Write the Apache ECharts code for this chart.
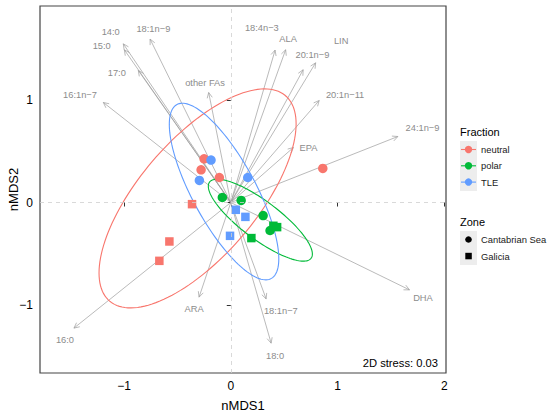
<!DOCTYPE html>
<html>
<head>
<meta charset="utf-8">
<script src="https://cdn.jsdelivr.net/npm/echarts@6/dist/echarts.min.js"></script>
<style>
	html,body{ margin:0; padding:0; background:#fff;}
	#mainBox{ width:550px; height:416px;}
</style>
</head>
<body>
<div id="mainBox"></div>
<script>
// samples (nMDS scores)
var sampleFraction=['neutral','neutral','neutral','neutral','neutral','neutral','neutral',
	'TLE','TLE','TLE','TLE','TLE','TLE',
	'polar','polar','polar','polar','polar','polar','polar'];
var sampleZone=['Cantabrian Sea','Cantabrian Sea','Cantabrian Sea','Cantabrian Sea','Galicia','Galicia','Galicia',
	'Cantabrian Sea','Cantabrian Sea','Cantabrian Sea','Galicia','Galicia','Galicia',
	'Cantabrian Sea','Cantabrian Sea','Cantabrian Sea','Cantabrian Sea','Galicia','Galicia','Galicia'];
var nmds1=[-0.25,-0.278,-0.107,0.862,-0.363,-0.575,-0.669,
	-0.185,-0.294,0.159,0.047,0.137,-0.007,
	-0.079,0.097,0.303,0.368,0.193,0.399,0.434];
var nmds2=[0.426,0.319,0.244,0.332,-0.016,-0.38,-0.569,
	0.414,0.215,0.244,-0.071,-0.14,-0.325,
	0.049,0.02,-0.127,-0.273,-0.347,-0.227,-0.24];

// fatty acid vectors (arrow tip) and label positions
var faNames=['14:0','15:0','17:0','18:1n\u22129','16:1n\u22127','other FAs','18:4n\u22123','ALA','LIN','20:1n\u22129','20:1n\u221211','24:1n\u22129','EPA','16:0','ARA','18:1n\u22127','18:0','DHA'];
var faX=[-1.007,-0.997,-0.866,-0.756,-1.194,-0.207,0.415,0.514,0.795,0.678,0.828,1.565,0.587,-1.469,-0.297,0.331,0.378,1.674];
var faY=[1.548,1.49,1.288,1.594,0.976,1.073,1.487,1.49,1.363,1.295,0.995,0.644,0.537,-1.225,-0.923,-0.94,-1.372,-0.852];
var labX=[-1.125,-1.209,-1.068,-0.725,-1.412,-0.241,0.291,0.537,1.034,0.765,1.071,1.796,0.727,-1.553,-0.344,0.469,0.415,1.8];
var labY=[1.668,1.529,1.268,1.692,1.044,1.165,1.701,1.594,1.578,1.441,1.044,0.726,0.531,-1.34,-1.04,-1.063,-1.502,-0.927];

// ellipses per fraction: centre and covariance
var ellFraction=['neutral','polar','TLE'];
var ellCx=[-0.311,0.277,-0.063];
var ellCy=[0.04,-0.172,0.107];
var ellVarX=[0.852,0.2375,0.263];
var ellVarY=[1.141,0.16,0.742];
var ellCov=[0.671,-0.161,-0.336];

// axis ticks
var xTicks=[-1,0,1,2];
var yTicks=[-1,0,1];

var fractions=['neutral','polar','TLE'];
var colors={'neutral':'#F8766D','polar':'#00BA38','TLE':'#619CFF'};
var fontName='"Liberation Sans", Arial, sans-serif';

var renderVector=function(params,api){
	var o=api.coord([0,0]);
	var t=api.coord([api.value(0),api.value(1)]);
	var l=api.coord([api.value(2),api.value(3)]);
	var ang=Math.atan2(t[1]-o[1],t[0]-o[0]);
	var h=6,w=Math.PI/7;
	var p1=[t[0]-h*Math.cos(ang-w),t[1]-h*Math.sin(ang-w)];
	var p2=[t[0]-h*Math.cos(ang+w),t[1]-h*Math.sin(ang+w)];
	return {type:'group',children:[
		{type:'line',shape:{x1:o[0],y1:o[1],x2:t[0],y2:t[1]},style:{stroke:'#9c9c9c',lineWidth:0.7}},
		{type:'polyline',shape:{points:[p1,t,p2]},style:{stroke:'#9c9c9c',lineWidth:0.7,fill:'none'}},
		{type:'text',x:l[0],y:l[1],style:{text:faNames[params.dataIndex],fill:'#8c8c8c',font:'9.3px '+fontName,align:'center',verticalAlign:'middle'}}
	]};
}

var renderEllipse=function(params,api){
	var cx=api.value(0),cy=api.value(1),a=api.value(2),c=api.value(3),b=api.value(4);
	var l11=Math.sqrt(a),l21=b/l11,l22=Math.sqrt(c-l21*l21);
	var pts=[];
	for(var i=0;i<=144;i++){
		var t=i/144*2*Math.PI;
		pts.push(api.coord([cx+l11*Math.cos(t),cy+l21*Math.cos(t)+l22*Math.sin(t)]));
	}
	return {type:'polyline',shape:{points:pts},style:{stroke:colors[ellFraction[params.dataIndex]],lineWidth:1.1,fill:'none'}};
}

var vecData=[];
for(var i=0;i<faNames.length;i++)vecData.push([faX[i],faY[i],labX[i],labY[i]]);
var ellData=[];
for(var i=0;i<ellFraction.length;i++)ellData.push([ellCx[i],ellCy[i],ellVarX[i],ellVarY[i],ellCov[i]]);

var series=[{
	type:'custom',name:'vectors',renderItem:renderVector,data:vecData,z:1,silent:true,
	markLine:{silent:true,symbol:'none',label:{show:false},
		lineStyle:{color:'#cfcfcf',type:[4,4],width:0.8},
		data:[{xAxis:0},{yAxis:0}]}
},{
	type:'custom',name:'ellipses',renderItem:renderEllipse,data:ellData,z:2,silent:true
}];
for(var f=0;f<fractions.length;f++){
	var pts=[];
	for(var i=0;i<sampleFraction.length;i++){
		if(sampleFraction[i]!=fractions[f])continue;
		var isSq=sampleZone[i]=='Galicia';
		pts.push({value:[nmds1[i],nmds2[i]],symbol:isSq?'rect':'circle',symbolSize:isSq?8.5:9.5});
	}
	series.push({type:'scatter',name:fractions[f],data:pts,z:3,
		itemStyle:{color:colors[fractions[f]],opacity:1}});
}

var minusFmt=function(v){return v<0?'\u2212'+Math.abs(v):''+v;};
var makeAxis=function(ticks,extra){
	return Object.assign({
		type:'value',
		splitLine:{show:false},
		axisLine:{show:false},
		axisTick:{show:true,length:4,customValues:ticks,lineStyle:{color:'#333',width:1}},
		axisLabel:{color:'#000',fontSize:12,fontFamily:fontName,formatter:minusFmt,customValues:ticks,margin:7},
		nameLocation:'middle',
		nameTextStyle:{color:'#000',fontSize:13,fontFamily:fontName}
	},extra);
}

var legendEls=[
	{type:'text',x:460,y:132,style:{text:'Fraction',font:'11px '+fontName,fill:'#000',verticalAlign:'middle'}},
	{type:'rect',shape:{x:460,y:141,width:17,height:50},style:{fill:'#ededed'}},
	{type:'text',x:460,y:222,style:{text:'Zone',font:'11px '+fontName,fill:'#000',verticalAlign:'middle'}},
	{type:'rect',shape:{x:460,y:231,width:17,height:34},style:{fill:'#ededed'}},
	{type:'circle',shape:{cx:468.5,cy:239.5,r:3.3},style:{fill:'#000'}},
	{type:'rect',shape:{x:465.3,y:252.8,width:6.5,height:6.5},style:{fill:'#000'}},
	{type:'text',x:481,y:239.5,style:{text:'Cantabrian Sea',font:'9.4px '+fontName,fill:'#1a1a1a',verticalAlign:'middle'}},
	{type:'text',x:481,y:256,style:{text:'Galicia',font:'9.4px '+fontName,fill:'#1a1a1a',verticalAlign:'middle'}},
	{type:'text',x:438,y:363,style:{text:'2D stress: 0.03',font:'11.2px '+fontName,fill:'#000',align:'right',verticalAlign:'middle'}}
];
for(var f=0;f<fractions.length;f++){
	var yy=149.5+f*16.3;
	legendEls.push({type:'line',shape:{x1:461,y1:yy,x2:476,y2:yy},style:{stroke:colors[fractions[f]],lineWidth:1.1}});
	legendEls.push({type:'circle',shape:{cx:468.5,cy:yy,r:3.7},style:{fill:colors[fractions[f]]}});
	legendEls.push({type:'text',x:481,y:yy,style:{text:fractions[f],font:'9.4px '+fontName,fill:'#1a1a1a',verticalAlign:'middle'}});
}

var myChart=echarts.init(document.getElementById('mainBox'),null,{renderer:'svg'});
myChart.setOption({
	animation:false,
	backgroundColor:'#fff',
	grid:{left:40,right:104,top:6,bottom:43,show:true,borderColor:'#444',borderWidth:1.2,backgroundColor:'transparent',
		containLabel:false,outerBoundsMode:'none'},
	xAxis:makeAxis(xTicks,{min:-1.787,max:2.016,name:'nMDS1',nameGap:26}),
	yAxis:makeAxis(yTicks,{min:-1.663,max:1.917,name:'nMDS2',nameGap:20,nameMoveOverlap:false}),
	graphic:{elements:legendEls},
	series:series
});
</script>
</body>
</html>
